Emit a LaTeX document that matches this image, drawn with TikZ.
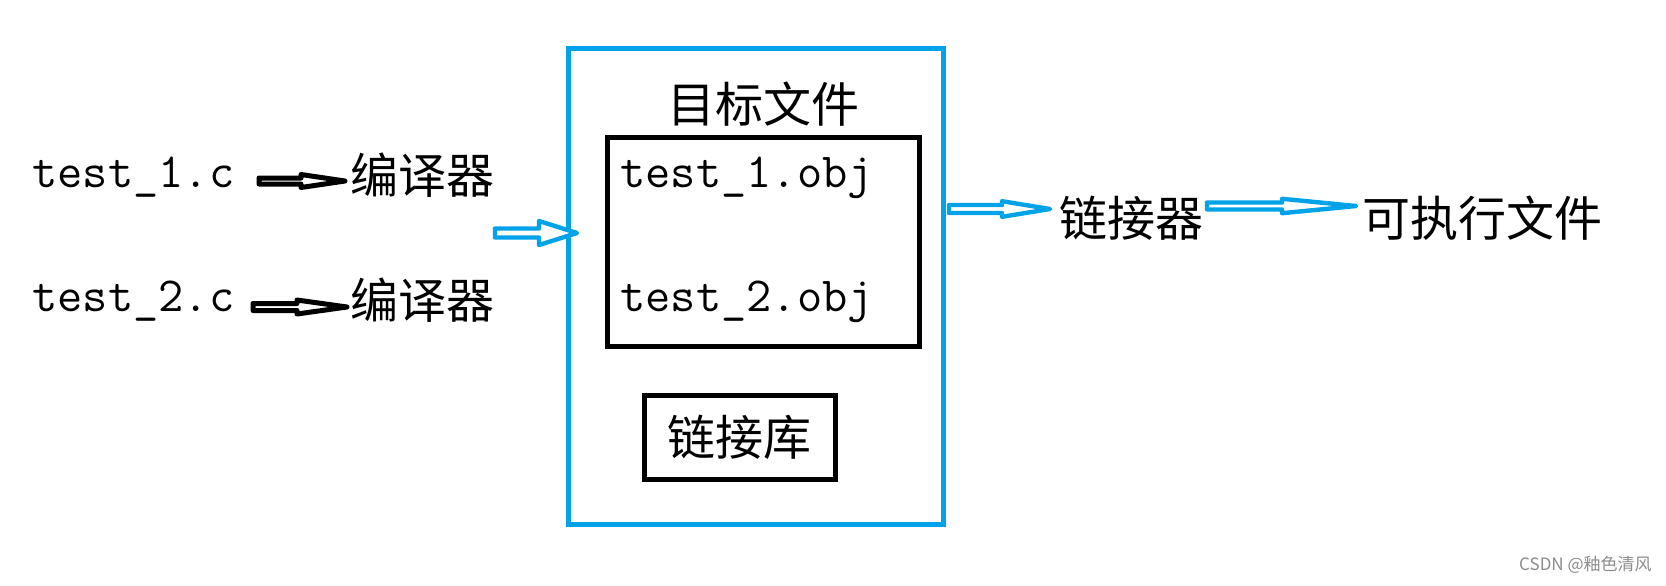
\documentclass[tikz,border=0pt]{standalone}
\usepackage{fontspec}
\newfontfamily\cjk{Noto Sans CJK SC}
\usetikzlibrary{calc}
\definecolor{paintblue}{HTML}{00A2E8}
\tikzset{
  harrow/.style n args={3}{line join=round, fill=white,
    to path={let \p1=(\tikztostart), \p2=(\tikztotarget) in
      (\x1,\y1+#1) -- (\x2-#3,\y1+#1) -- (\x2-#3,\y1+#2) -- (\x2,\y1)
      -- (\x2-#3,\y1-#2) -- (\x2-#3,\y1-#1) -- (\x1,\y1-#1) -- cycle}},
  blackarrow/.style={draw=black, line width=2.5pt},
  bluearrow/.style={draw=paintblue, line width=2.2pt},
  monotext/.style={inner sep=0pt, font=\ttfamily\fontsize{24.5}{28}\selectfont},
  cjktext/.style={inner sep=0pt, font=\cjk\fontsize{24}{28}\selectfont},
  bluebox/.style={draw=paintblue, line width=2.5pt, inner sep=0pt},
  blackbox/.style={draw=black, line width=2.5pt, inner sep=0pt},
}
\begin{document}
\begin{tikzpicture}[x=0.5pt,y=-0.5pt]
\useasboundingbox[fill=white] (0,0) rectangle (1666,585);

% boxes
\node[bluebox, minimum width=187.5pt, minimum height=238pt] (outer) at (755.5,286) {};
\node[blackbox, minimum width=155.75pt, minimum height=104.25pt] (objbox) at (763.25,241.75) {};
\node[blackbox, cjktext, minimum width=95.5pt, minimum height=42pt] (lib) at (739.5,437) {链接库};

% texts
\node[cjktext] (objtitle) at (763,104) {目标文件};
\node[monotext, anchor=base west] (o1) at (620,187) {test\_1.obj};
\node[monotext, anchor=base west] (o2) at (620,311) {test\_2.obj};
\node[monotext, anchor=base west] (c1) at (32,187) {test\_1.c};
\node[monotext, anchor=base west] (c2) at (32,311) {test\_2.c};
\node[cjktext, anchor=west] (comp1) at (350,175) {编译器};
\node[cjktext, anchor=west] (comp2) at (350,300) {编译器};
\node[cjktext, anchor=west] (linker) at (1059,218) {链接器};
\node[cjktext, anchor=west] (exe) at (1362,218) {可执行文件};
\node[anchor=east, inner sep=0pt, text=black!45, font=\cjk\fontsize{8.5}{10}\selectfont] (wm) at (1652,565) {CSDN @釉色清风};

% arrow end points
\coordinate (a1s) at (259,181);  \coordinate (a1e) at (345,181);
\coordinate (a2s) at (253,307);  \coordinate (a2e) at (347,307);
\coordinate (a3s) at (495,233);  \coordinate (a3e) at (577,233);
\coordinate (a4s) at (949,209);  \coordinate (a4e) at (1050,209);
\coordinate (a5s) at (1207,206); \coordinate (a5e) at (1356,206);

% arrows
\draw[blackarrow, harrow={1.5pt}{3.25pt}{22pt}] (a1s) to (a1e);
\draw[blackarrow, harrow={1.75pt}{3.5pt}{25pt}] (a2s) to (a2e);
\draw[bluearrow, harrow={2.25pt}{6pt}{19pt}] (a3s) to (a3e);
\draw[bluearrow, harrow={2pt}{3.9pt}{24pt}] (a4s) to (a4e);
\draw[bluearrow, harrow={1.75pt}{3.6pt}{37pt}] (a5s) to (a5e);
\end{tikzpicture}
\end{document}
